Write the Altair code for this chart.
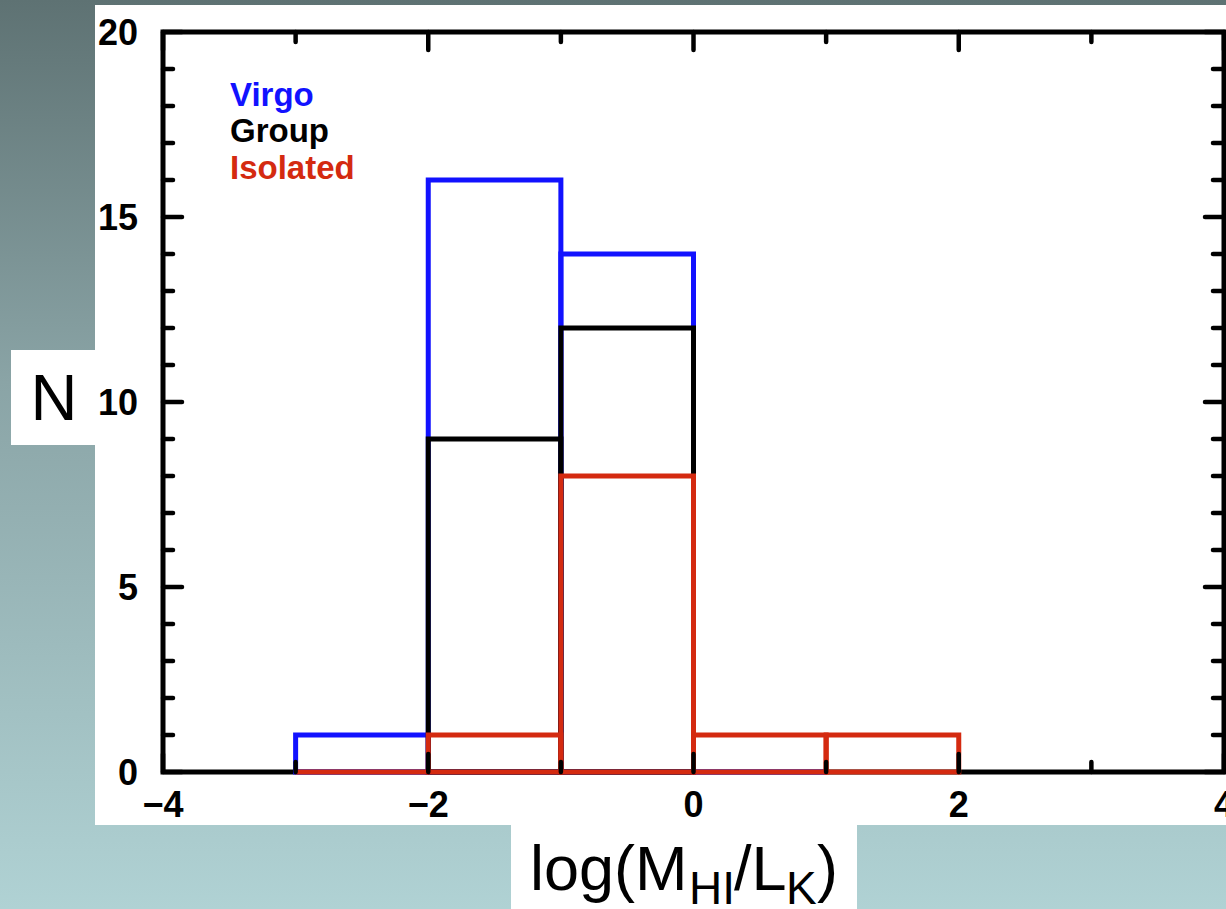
import altair as alt
import pandas as pd

# ---------------- data ----------------
series_names = ["Virgo", "Group", "Isolated"]
series_colors = ["#1212ff", "#000000", "#d42a10"]

virgo_edges = [-3, -2, -1, 0, 1]
virgo_counts = [1, 16, 14, 0]
group_edges = [-2, -1, 0]
group_counts = [9, 12]
iso_edges = [-3, -2, -1, 0, 1, 2]
iso_counts = [0, 1, 8, 1, 1]

x_major = [-4, -2, 0, 2, 4]
x_minor = [-3, -1, 1, 3]
y_major = [0, 5, 10, 15, 20]
y_minor = [1, 2, 3, 4, 6, 7, 8, 9, 11, 12, 13, 14, 16, 17, 18, 19]

y_title = "N"
x_title_parts = ["log(M", "HI", "/L", "K", ")"]

# ---------------- layout ----------------
W, H = 1061, 740
FONT = "Liberation Sans"
xs = alt.Scale(domain=[-4, 4], nice=False, zero=False)
ys = alt.Scale(domain=[0, 20], nice=False, zero=False)

one = pd.DataFrame({"d": [0]})


def fmt(v):
    return str(v).replace("-", "\u2212")


def box(x1, x2, y1, y2, fill):
    return alt.Chart(one).mark_rect(fill=fill).encode(
        x=alt.value(x1), x2=alt.value(x2), y=alt.value(y1), y2=alt.value(y2))


bg = alt.Chart(one).mark_rect(
    fill=alt.LinearGradient(
        gradient="linear",
        stops=[alt.GradientStop(color="#5e7273", offset=0),
               alt.GradientStop(color="#8aa4a6", offset=0.42),
               alt.GradientStop(color="#b0d2d4", offset=1)],
        x1=0, x2=0, y1=0, y2=1)
).encode(x=alt.value(-163), x2=alt.value(1063), y=alt.value(-32), y2=alt.value(877))

panel = box(-68, 1063, -27, 793, "white")
nbox = box(-152, -60, 318, 413, "white")
xbox = box(348, 694, 793, 877, "white")

frame = alt.Chart(one).mark_rect(fillOpacity=0, stroke="black", strokeWidth=5).encode(
    x=alt.value(0), x2=alt.value(W), y=alt.value(0), y2=alt.value(H))


def hist(edges, counts, color):
    df = pd.DataFrame({"x0": edges[:-1], "x1": edges[1:], "n": counts})
    return alt.Chart(df).mark_rect(fillOpacity=0, stroke=color, strokeWidth=5).encode(
        x=alt.X("x0:Q", scale=xs, axis=None),
        x2="x1:Q",
        y=alt.Y("n:Q", scale=ys, axis=None),
        y2=alt.datum(0),
    )


def xticks(vals, y1, y2):
    return alt.Chart(pd.DataFrame({"v": vals})).mark_rule(
        color="black", strokeWidth=4.5, strokeCap="round").encode(
        x=alt.X("v:Q", scale=xs, axis=None), y=alt.value(y1), y2=alt.value(y2))


def yticks(vals, x1, x2):
    return alt.Chart(pd.DataFrame({"v": vals})).mark_rule(
        color="black", strokeWidth=4.5, strokeCap="round").encode(
        y=alt.Y("v:Q", scale=ys, axis=None), x=alt.value(x1), x2=alt.value(x2))


ticks = [
    xticks(x_major, H, H - 18), xticks(x_minor, H, H - 10),
    xticks(x_major, 0, 18), xticks(x_minor, 0, 10),
    yticks(y_major, 0, 19), yticks(y_minor, 0, 10),
    yticks(y_major, W, W - 19), yticks(y_minor, W, W - 11),
]

xlab = alt.Chart(pd.DataFrame({"v": x_major, "t": [fmt(v) for v in x_major]})).mark_text(
    font=FONT, fontSize=36, fontWeight="bold", color="black",
    align="center", baseline="alphabetic").encode(
    x=alt.X("v:Q", scale=xs, axis=None), y=alt.value(785), text="t:N")

ylab = alt.Chart(pd.DataFrame({"v": y_major, "t": [fmt(v) for v in y_major]})).mark_text(
    font=FONT, fontSize=36, fontWeight="bold", color="black",
    align="right", baseline="alphabetic", dy=13).encode(
    y=alt.Y("v:Q", scale=ys, axis=None), x=alt.value(-25), text="t:N")


def label(txt, x, y, size, color="black", weight="normal", align="left"):
    return alt.Chart(one).mark_text(
        font=FONT, fontSize=size, fontWeight=weight, color=color,
        align=align, baseline="alphabetic").encode(
        x=alt.value(x), y=alt.value(y), text=alt.value(txt))


legend = [
    label(series_names[0], 67, 74, 33, series_colors[0], "bold"),
    label(series_names[1], 67, 110, 33, series_colors[1], "bold"),
    label(series_names[2], 67, 147, 33, series_colors[2], "bold"),
]

ytitle = label(y_title, -109, 388, 65, align="center")
xtitle = [
    label(x_title_parts[0], 367, 858, 63),
    label(x_title_parts[1], 526, 872, 46),
    label(x_title_parts[2], 571, 858, 63),
    label(x_title_parts[3], 623, 872, 46),
    label(x_title_parts[4], 654, 858, 63),
]

chart = alt.layer(
    bg, panel, nbox, xbox, frame,
    hist(virgo_edges, virgo_counts, series_colors[0]),
    hist(group_edges, group_counts, series_colors[1]),
    hist(iso_edges, iso_counts, series_colors[2]),
    *ticks, xlab, ylab, *legend, ytitle, *xtitle,
).properties(
    width=W, height=H,
    autosize=alt.AutoSizeParams(type="none"),
    padding={"left": 163, "top": 32, "right": 2, "bottom": 137},
).configure_view(stroke=None)

chart.save("out.html", embed_options={"renderer": "svg", "actions": False})
